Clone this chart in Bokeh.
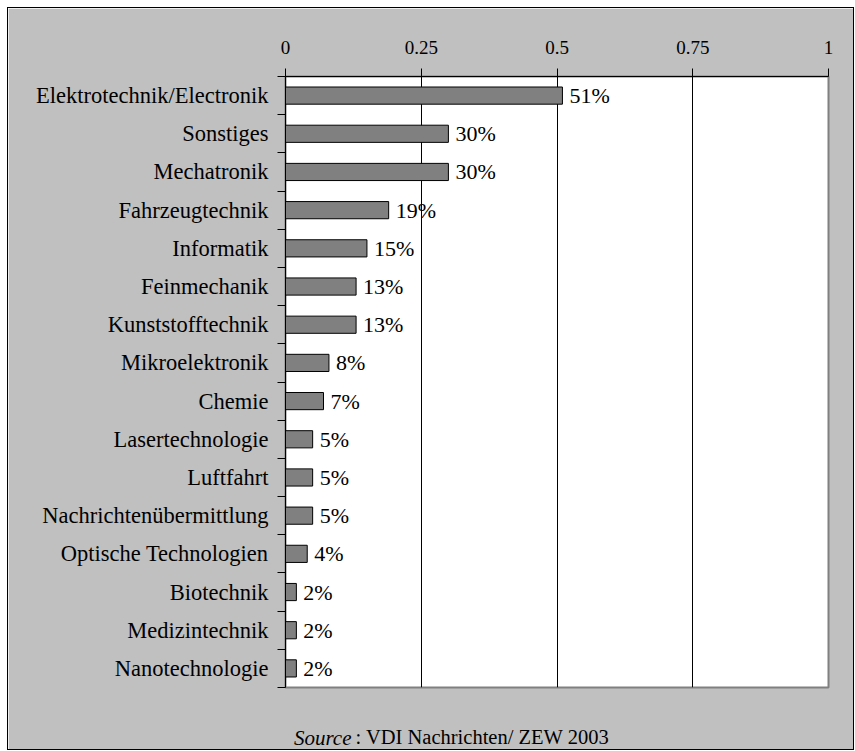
from bokeh.plotting import figure
from bokeh.models import Range1d, LinearAxis, FixedTicker, Label, ColumnDataSource, Grid
from bokeh.embed import file_html
from bokeh.resources import INLINE
from bokeh.core.properties import value

categories = ["Elektrotechnik/Electronik", "Sonstiges", "Mechatronik", "Fahrzeugtechnik",
              "Informatik", "Feinmechanik", "Kunststofftechnik", "Mikroelektronik", "Chemie",
              "Lasertechnologie", "Luftfahrt", "Nachrichtenübermittlung", "Optische Technologien",
              "Biotechnik", "Medizintechnik", "Nanotechnologie"]
shares = [0.51, 0.30, 0.30, 0.19, 0.15, 0.13, 0.13, 0.08, 0.07, 0.05, 0.05, 0.05, 0.04, 0.02, 0.02, 0.02]
x_ticks = [0, 0.25, 0.5, 0.75, 1]
x_tick_labels = ["0", "0.25", "0.5", "0.75", "1"]
source_note = ": VDI Nachrichten/ ZEW 2003"

FONT = "Liberation Serif"
n = len(categories)
centers = [i + 0.5 for i in range(n)]
labels = [f"{round(v*100)}%" for v in shares]
src = ColumnDataSource(dict(y=centers, right=shares, lbl=labels))

p = figure(frame_width=543, frame_height=611, output_backend="svg", toolbar_location=None,
           x_range=Range1d(0, 1), y_range=Range1d(n, 0),
           x_axis_location=None, y_axis_location=None,
           min_border_left=277, min_border_top=68, min_border_bottom=62, min_border_right=25)
p.margin = (8, 0, 0, 8)
p.background_fill_color = "white"
p.border_fill_color = "#C0C0C0"
p.outline_line_color = "#808080"
p.outline_line_width = 2
p.styles = {"outline": "1px solid black"}

# top axis
xa = LinearAxis(ticker=FixedTicker(ticks=x_ticks),
                major_label_overrides={t: l for t, l in zip(x_ticks, x_tick_labels)})
xa.major_tick_in = 0
xa.major_tick_out = 8
xa.minor_tick_out = 0
xa.minor_tick_in = 0
xa.axis_line_color = "black"
xa.major_label_text_font = FONT
xa.major_label_text_font_size = "19px"
xa.major_label_text_color = "black"
xa.major_label_standoff = 15
p.add_layout(xa, "above")

# left axis with ticks between categories
ya = LinearAxis(ticker=FixedTicker(ticks=centers, minor_ticks=list(range(n + 1))),
                major_label_overrides={c: name for c, name in zip(centers, categories)})
ya.major_tick_in = 0
ya.major_tick_out = 0
ya.minor_tick_in = 0
ya.minor_tick_out = 8
ya.minor_tick_line_color = "black"
ya.axis_line_color = "black"
ya.major_label_text_font = FONT
ya.major_label_text_font_size = "22.5px"
ya.major_label_text_color = "black"
ya.major_label_standoff = 9
p.add_layout(ya, "left")

p.xgrid.visible = False
p.ygrid.visible = False
g = Grid(dimension=0, ticker=FixedTicker(ticks=[0.25, 0.5, 0.75]), grid_line_color="black", grid_line_width=1)
p.add_layout(g)

p.hbar(y="y", right="right", left=0, height=0.45, source=src,
       fill_color="#808080", line_color="black", line_width=1)
p.text(x="right", y="y", text="lbl", source=src, x_offset=7,
       text_font=value(FONT), text_font_size="22px", text_baseline="middle",
       text_align="left", text_color="black")

p.add_layout(Label(x=66, y=-26, x_units="screen", y_units="screen", text="Source", text_font=FONT,
                   text_font_style="italic", text_font_size="21px", text_align="right",
                   text_baseline="middle", text_color="black"), "below")
p.add_layout(Label(x=70, y=-3, x_units="screen", y_units="screen", text=source_note, text_font=FONT,
                   text_font_size="20.5px", text_align="left", text_baseline="middle", text_color="black"), "below")

open("out.html", "w").write(file_html(p, INLINE))
